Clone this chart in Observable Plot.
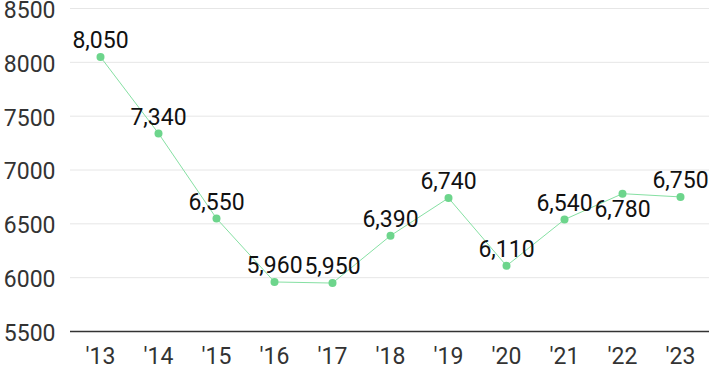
<!DOCTYPE html>
<html><head><meta charset="utf-8">
<script src="https://cdn.jsdelivr.net/npm/d3@7"></script>
<script src="https://cdn.jsdelivr.net/npm/@observablehq/plot@0.6"></script>
<style>body{margin:0;background:#fff;} svg{display:block;}</style>
</head><body><div id="chart"></div>
<script>
const years = ["'13","'14","'15","'16","'17","'18","'19","'20","'21","'22","'23"];
const values = [8050, 7340, 6550, 5960, 5950, 6390, 6740, 6110, 6540, 6780, 6750];
const labelBelow = [false,false,false,false,false,false,false,false,false,true,false];
const yTicks = [5500, 6000, 6500, 7000, 7500, 8000, 8500];

const data = years.map((y, i) => ({year: y, value: values[i], below: labelBelow[i]}));
const fmt = d3.format(",");

const chart = Plot.plot({
  width: 710, height: 371,
  marginTop: 8, marginBottom: 40, marginLeft: 70, marginRight: 1,
  style: {fontFamily: "Roboto, 'Noto Sans', sans-serif", fontSize: "23px", background: "#fff"},
  x: {type: "point", domain: years, padding: 0.5, label: null},
  y: {domain: [5500, 8500], label: null},
  marks: [
    Plot.gridY(yTicks.filter(t => t > 5500), {stroke: "#e6e6e6", strokeOpacity: 1, strokeWidth: 1}),
    Plot.ruleY([5500], {stroke: "#333", strokeWidth: 1.5}),
    Plot.axisX({tickSize: 0, tickPadding: 16, fill: "#333", fontSize: 23}),
    Plot.axisY({ticks: yTicks, tickSize: 0, tickPadding: 15, fill: "#333", fontSize: 23, dy: 2, tickFormat: d => String(d)}),
    Plot.line(data, {x: "year", y: "value", stroke: "#86e0a3", strokeWidth: 1}),
    Plot.dot(data, {x: "year", y: "value", r: 4, fill: "#6dd58c", stroke: "none"}),
    Plot.text(data.filter(d => !d.below), {x: "year", y: "value", text: d => fmt(d.value), dy: -16, fill: "#111", fontSize: 23}),
    Plot.text(data.filter(d => d.below), {x: "year", y: "value", text: d => fmt(d.value), dy: 16, fill: "#111", fontSize: 23})
  ]
});
document.getElementById("chart").appendChild(chart);
</script>
</body></html>
